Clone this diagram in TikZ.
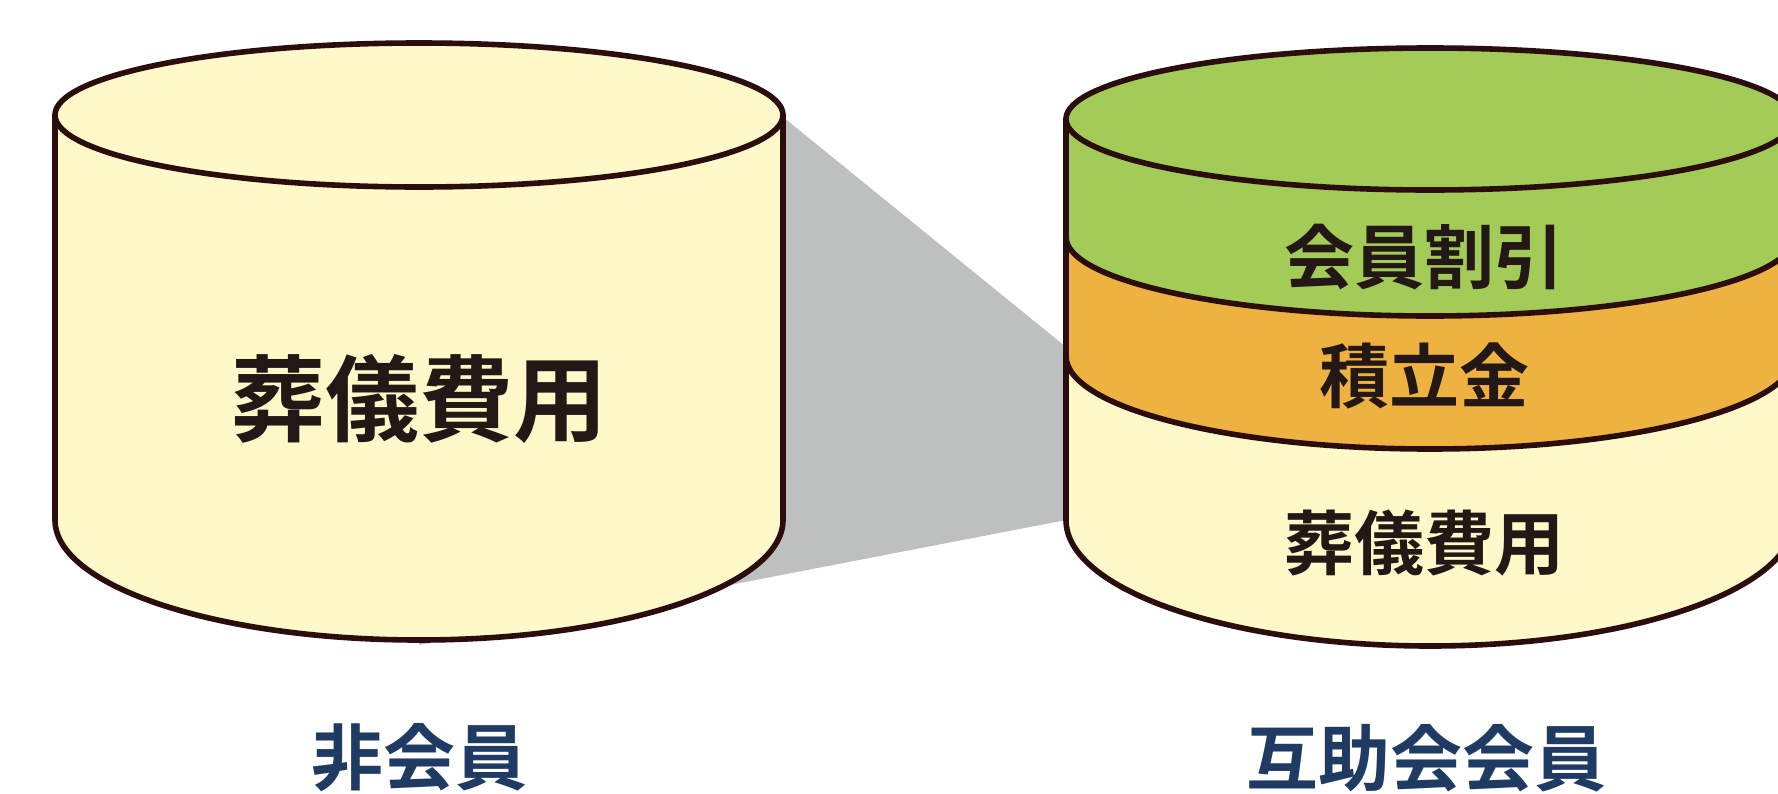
\documentclass[tikz,border=0pt]{standalone}
\usepackage{fontspec}
\usepackage{tikz}
\newfontfamily\jpfont[BoldFont={* Bold}]{Noto Sans CJK JP}
\definecolor{cream}{HTML}{FFF8C8}
\definecolor{leaf}{HTML}{A2CB57}
\definecolor{amber}{HTML}{EDB23F}
\definecolor{shadowgray}{HTML}{BEBFBF}
\definecolor{rimcol}{HTML}{2B0D0D}
\definecolor{ink}{HTML}{231815}
\definecolor{navy}{HTML}{1F3B63}

\begin{document}
\begin{tikzpicture}[x=0.5pt,y=-0.5pt,
	rim/.style={draw=rimcol,line width=2.8pt,line join=round},
	inner/.style={text=ink,inner sep=0pt,font=\jpfont\bfseries\fontsize{35pt}{35pt}\selectfont},
	big/.style={inner,font=\jpfont\bfseries\fontsize{47pt}{47pt}\selectfont},
	caption/.style={text=navy,inner sep=0pt,font=\jpfont\bfseries\fontsize{36pt}{36pt}\selectfont}]
\useasboundingbox (0,0) rectangle (1778,793);
\clip (0,0) rectangle (1778,793);
% shadow between the two
\coordinate (s1) at (783,117);
\coordinate (s2) at (1066,347);
\coordinate (s3) at (1066,520);
\coordinate (s4) at (419,645);
\fill [shadowgray] (s1) -- (s2) -- (s3) -- (s4) -- (419,117) -- cycle;
% non-member
\filldraw [rim,fill=cream] (55,115) -- (55,520) arc (180:0:364 and 120) -- (783,115) -- cycle;
\filldraw [rim,fill=cream] (419,115) ellipse (364 and 72);
% member
\filldraw [rim,fill=cream] (1066,119) -- (1066,520) arc (180:0:364 and 126) -- (1794,119) -- cycle;
\filldraw [rim,fill=amber] (1066,119) -- (1066,356) arc (180:0:364 and 93) -- (1794,119) -- cycle;
\filldraw [rim,fill=leaf] (1066,119) -- (1066,237) arc (180:0:364 and 79) -- (1794,119) -- cycle;
\filldraw [rim,fill=leaf] (1430,119) ellipse (364 and 71);

\node [big] (cost) at (419,399) {葬儀費用};
\node [inner] (discount) at (1424,257) {会員割引};
\node [inner] (saving) at (1424,376) {積立金};
\node [inner] (cost2) at (1424,543) {葬儀費用};
\node [caption] (nonmember) at (419,758) {非会員};
\node [caption] (member) at (1426,758) {互助会会員};
\end{tikzpicture}
\end{document}
